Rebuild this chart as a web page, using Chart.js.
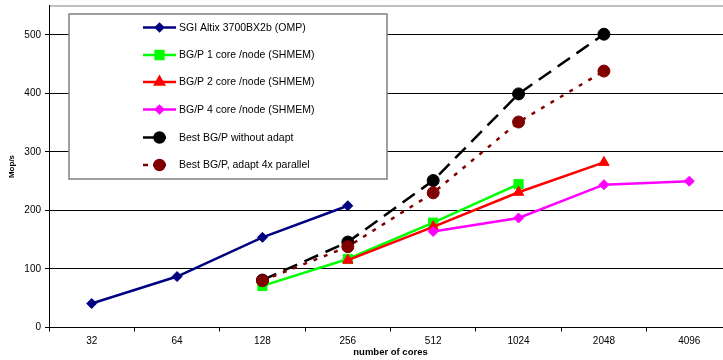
<!DOCTYPE html>
<html>
<head>
<meta charset="utf-8">
<script src="https://cdn.jsdelivr.net/npm/chart.js@4.4.1/dist/chart.umd.min.js"></script>
<style>
html,body{margin:0;padding:0;background:#fff;overflow:hidden;}
#wrap{position:relative;top:-2px;width:740px;height:362px;}
</style>
</head>
<body>
<div id="wrap"><canvas id="c" width="740" height="362"></canvas></div>
<script>
const categories = ['32','64','128','256','512','1024','2048','4096'];
const sgiAltix   = [41, 87, 154, 208, null, null, null, null];
const bgp1core   = [null, null, 71, 117, 179, 245, null, null];
const bgp2core   = [null, null, null, 115, 172, 231, 282, null];
const bgp4core   = [null, null, null, null, 164, 187, 244, 250];
const bestNoAdapt = [null, null, 81, 146, 251, 399, 501, null];
const bestAdapt   = [null, null, 80, 138, 230, 351, 438, null];
const seriesNames = ['SGI Altix 3700BX2b (OMP)','BG/P 1 core /node (SHMEM)','BG/P 2 core /node (SHMEM)','BG/P 4 core /node (SHMEM)','Best BG/P without adapt','Best BG/P, adapt 4x parallel'];
const yTicks = [0,100,200,300,400,500];

const FONT = '"Liberation Sans", Arial, sans-serif';

const styles = [
  {color:'#000080', pointStyle:'rectRot', r:5, dash:[]},
  {color:'#00FF00', pointStyle:'rect', r:6.5, dash:[]},
  {color:'#FF0000', pointStyle:'triangle', r:6, dash:[]},
  {color:'#FF00FF', pointStyle:'rectRot', r:5, dash:[]},
  {color:'#000000', pointStyle:'circle', r:6, dash:[15,8]},
  {color:'#800000', pointStyle:'circle', r:6, dash:[4,7]}
];
const seriesData = [sgiAltix,bgp1core,bgp2core,bgp4core,bestNoAdapt,bestAdapt];

const datasets = seriesData.map((d,i)=>({
  label: seriesNames[i],
  data: d,
  borderColor: styles[i].color,
  backgroundColor: styles[i].color,
  borderWidth: 2.5,
  borderDash: styles[i].dash,
  pointStyle: styles[i].pointStyle,
  pointRadius: styles[i].r,
  pointHoverRadius: styles[i].r,
  pointBorderWidth: 1,
  pointBorderColor: styles[i].color,
  pointBackgroundColor: styles[i].color,
  tension: 0,
  spanGaps: false,
  order: seriesData.length - i
}));

const legendPlugin = {
  id: 'boxLegend',
  afterDraw(chart){
    const ctx = chart.ctx;
    const off = 2;
    const bx = 69, by = 14 + off, bw = 318, bh = 165;
    ctx.save();
    ctx.fillStyle = '#ffffff';
    ctx.fillRect(bx, by, bw, bh);
    ctx.strokeStyle = '#808080';
    ctx.lineWidth = 1.5;
    ctx.strokeRect(bx, by, bw, bh);
    const ys = [27.5, 55, 82, 109.5, 137.5, 165];
    seriesNames.forEach((name,i)=>{
      const y = ys[i] + off;
      const s = styles[i];
      ctx.save();
      ctx.strokeStyle = s.color;
      ctx.lineWidth = 2.5;
      ctx.setLineDash(i===5 ? [5,5] : []);
      ctx.beginPath();
      const x1 = 143, x2 = (i>=4) ? 166 : 176;
      ctx.moveTo(x1, y); ctx.lineTo(x2, y);
      ctx.stroke();
      ctx.setLineDash([]);
      ctx.fillStyle = s.color;
      Chart.helpers.drawPoint(ctx, {pointStyle: s.pointStyle, radius: i>=4 ? 5 : (i===1?5.5:(i===2?5:3.5)), borderWidth: 1}, 159.5, y);
      ctx.fill();
      ctx.restore();
      ctx.fillStyle = '#000';
      ctx.font = '10.5px ' + FONT;
      ctx.textAlign = 'left';
      ctx.textBaseline = 'middle';
      ctx.fillText(name, 179, y + 0.5);
    });
    ctx.restore();
  }
};

new Chart(document.getElementById('c'), {
  type: 'line',
  data: { labels: categories, datasets },
  options: {
    responsive: false,
    animation: false,
    devicePixelRatio: 1,
    layout: { padding: { top: 3, right: 8, left: 0, bottom: 0 } },
    plugins: { legend: { display: false }, tooltip: { enabled: false } },
    scales: {
      x: {
        type: 'category',
        offset: true,
        grid: { offset: true, drawOnChartArea: false, drawTicks: true, tickLength: 4, color: '#000', lineWidth: 1 },
        border: { display: true, color: '#000', width: 1 },
        ticks: { color: '#000', font: { family: FONT, size: 10 }, padding: 4, maxRotation: 0 },
        title: { display: true, text: 'number of cores', color: '#000', font: { family: FONT, size: 9.5, weight: 'bold' }, padding: { top: 0, bottom: 2 } },
        afterFit(scale){ scale.height = 32.5; scale.paddingLeft = 0; scale.paddingRight = 0; }
      },
      y: {
        min: 0, max: 550,
        grid: {
          color: ctx => ctx.tick && ctx.tick.value === 550 ? '#c0c0c0' : '#000',
          lineWidth: ctx => ctx.tick && ctx.tick.value === 550 ? 2 : 1,
          tickColor: ctx => ctx.tick && ctx.tick.value === 550 ? 'rgba(0,0,0,0)' : '#000',
          tickLength: 4
        },
        border: { display: true, color: '#000', width: 1 },
        ticks: {
          stepSize: 100,
          color: '#000',
          font: { family: FONT, size: 10 },
          padding: 4,
          callback: v => yTicks.includes(v) ? String(v) : ''
        },
        title: { display: true, text: 'Mop/s', color: '#000', font: { family: FONT, size: 8, weight: 'bold' }, padding: { top: 7, bottom: 0 } },
        afterFit(scale){ scale.width = 49; scale.paddingTop = 0; scale.paddingBottom = 0; }
      }
    }
  },
  plugins: [legendPlugin]
});
</script>
</body>
</html>
